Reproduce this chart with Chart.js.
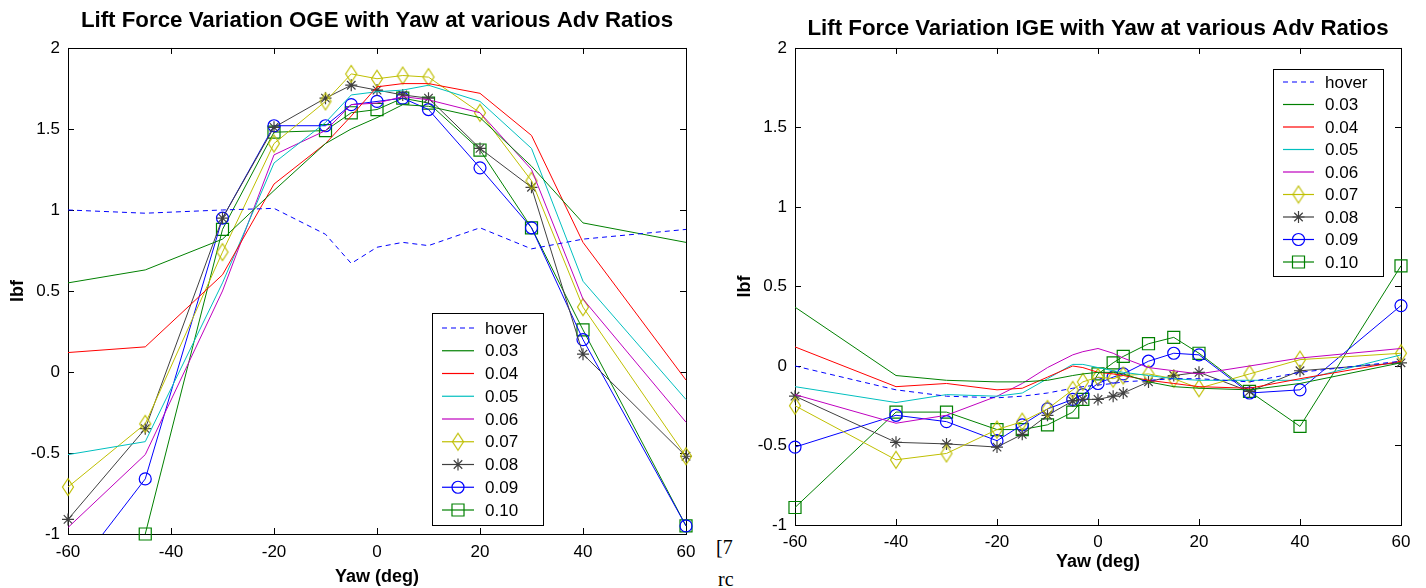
<!DOCTYPE html>
<html>
<head>
  <meta charset="utf-8" />
  <title>Lift Force Variation with Yaw</title>
  <script src="https://cdn.jsdelivr.net/npm/chart.js"></script>
  <style>
    body { margin: 0; background: #fff; width: 1426px; height: 588px; overflow: hidden; position: relative; }
    canvas { position: absolute; top: 0; }
    #oge { left: 0; }
    #ige { left: 720px; }
    .stray { position: absolute; font-family: "Liberation Serif", serif; font-size: 20px; color: #000; }
  </style>
</head>
<body>
  <div class="stray" style="left:716px; top:536px;">[7</div>
  <div class="stray" style="left:718px; top:568px;">rc</div>
  <canvas id="oge" width="720" height="588"></canvas>
  <canvas id="ige" width="706" height="588"></canvas>

  <script>
    // Yaw angles (deg) measured in each test
    const yawOGE = [-60, -45, -30, -20, -10, -5, 0, 5, 10, 20, 30, 40, 60];
    const yawIGE = [-60, -40, -30, -20, -15, -10, -5, -3, 0, 3, 5, 10, 15, 20, 30, 40, 60];

    // Out of ground effect, lift (lbf)
    const ogeHover = [1.00, 0.98, 1.00, 1.01, 0.85, 0.67, 0.77, 0.80, 0.78, 0.89, 0.76, 0.82, 0.88];
    const oge003 = [0.55, 0.63, 0.82, 1.12, 1.41, 1.50, 1.57, 1.65, 1.64, 1.57, 1.27, 0.92, 0.80];
    const oge004 = [0.12, 0.155, 0.60, 1.16, 1.41, 1.58, 1.76, 1.78, 1.78, 1.72, 1.46, 0.80, -0.05];
    const oge005 = [-0.51, -0.43, 0.55, 1.29, 1.54, 1.71, 1.73, 1.74, 1.77, 1.67, 1.38, 0.56, -0.17];
    const oge006 = [-0.96, -0.51, 0.50, 1.34, 1.49, 1.65, 1.66, 1.70, 1.68, 1.60, 1.25, 0.45, -0.31];
    const oge007 = [-0.71, -0.32, 0.74, 1.41, 1.67, 1.84, 1.81, 1.83, 1.82, 1.60, 1.18, 0.40, -0.52];
    const oge008 = [-0.91, -0.35, 0.95, 1.51, 1.69, 1.77, 1.74, 1.71, 1.69, 1.38, 1.14, 0.11, -0.52];
    const oge009 = [-1.28, -0.66, 0.95, 1.52, 1.52, 1.65, 1.67, 1.69, 1.62, 1.26, 0.89, 0.20, -0.95];
    const oge010 = [null, -1.00, 0.88, 1.48, 1.49, 1.60, 1.62, 1.69, 1.66, 1.37, 0.89, 0.26, -0.95];

    // In ground effect, lift (lbf)
    const igeHover = [0.00, -0.15, -0.19, -0.20, -0.19, -0.17, -0.14, -0.13, -0.12, -0.11, -0.10, -0.09, -0.08, -0.08, -0.10, -0.04, 0.03];
    const ige003 = [0.37, -0.06, -0.09, -0.10, -0.10, -0.09, -0.06, -0.05, -0.04, -0.04, -0.05, -0.10, -0.13, -0.14, -0.15, -0.11, 0.02];
    const ige004 = [0.12, -0.13, -0.11, -0.15, -0.14, -0.07, 0.00, -0.01, -0.04, -0.05, -0.06, -0.09, -0.11, -0.13, -0.14, -0.08, 0.03];
    const ige005 = [-0.13, -0.23, -0.18, -0.19, -0.17, -0.08, 0.01, 0.01, -0.01, -0.03, -0.04, -0.06, -0.08, -0.09, -0.09, -0.09, 0.07];
    const ige006 = [-0.18, -0.36, -0.31, -0.19, -0.11, -0.01, 0.07, 0.09, 0.11, 0.08, 0.05, -0.01, -0.03, -0.05, 0.00, 0.05, 0.11];
    const ige007 = [-0.25, -0.59, -0.55, -0.40, -0.35, -0.27, -0.15, -0.10, -0.07, -0.08, -0.06, -0.05, -0.08, -0.14, -0.05, 0.04, 0.08];
    const ige008 = [-0.19, -0.48, -0.49, -0.51, -0.43, -0.31, -0.22, -0.21, -0.21, -0.19, -0.17, -0.10, -0.06, -0.04, -0.16, -0.03, 0.02];
    const ige009 = [-0.51, -0.31, -0.35, -0.47, -0.37, -0.27, -0.21, -0.18, -0.11, -0.07, -0.05, 0.03, 0.08, 0.07, -0.17, -0.15, 0.38];
    const ige010 = [-0.89, -0.29, -0.29, -0.40, -0.40, -0.37, -0.29, -0.21, -0.05, 0.02, 0.06, 0.14, 0.18, 0.08, -0.16, -0.38, 0.63];

    const seriesLabels = ['hover', '0.03', '0.04', '0.05', '0.06', '0.07', '0.08', '0.09', '0.10'];
    const xTicks = [-60, -40, -20, 0, 20, 40, 60];
    const yTicks = [-1, -0.5, 0, 0.5, 1, 1.5, 2];

    const FONT = '"Liberation Sans", Arial, sans-serif';

    // tall matlab-like diamond marker
    function diamond(color) {
      const c = document.createElement('canvas');
      c.width = 14; c.height = 20;
      const g = c.getContext('2d');
      g.strokeStyle = color;
      g.lineWidth = 1.2;
      g.beginPath();
      g.moveTo(7, 1.5); g.lineTo(12.5, 10); g.lineTo(7, 18.5); g.lineTo(1.5, 10); g.closePath();
      g.stroke();
      return c;
    }

    // line styles, one per series label
    const styles = [
      { color: '#0000ff', dash: [5, 4], marker: null },
      { color: '#008000', dash: [], marker: null },
      { color: '#ff0000', dash: [], marker: null },
      { color: '#00bfbf', dash: [], marker: null },
      { color: '#bf00bf', dash: [], marker: null },
      { color: '#bfbf00', dash: [], marker: diamond('#bfbf00'), radius: 7 },
      { color: '#404040', dash: [], marker: 'star', radius: 6 },
      { color: '#0000ff', dash: [], marker: 'circle', radius: 6 },
      { color: '#008000', dash: [], marker: 'rect', radius: 8.5 }
    ];

    function makeDatasets(xs, ysList, clipBottom) {
      return ysList.map((ys, i) => {
        const st = styles[i];
        return {
          label: seriesLabels[i],
          data: xs.map((x, k) => ({ x: x, y: ys[k] })),
          borderColor: st.color,
          borderWidth: 1,
          borderDash: st.dash,
          backgroundColor: 'rgba(0,0,0,0)',
          pointStyle: st.marker || 'circle',
          pointRadius: st.marker ? st.radius : 0,
          pointBorderColor: st.color,
          pointBackgroundColor: 'rgba(0,0,0,0)',
          pointBorderWidth: 1.2,
          tension: 0,
          spanGaps: false,
          clip: { left: 10, top: 10, right: 10, bottom: clipBottom[i] }
        };
      });
    }

    // box + inward ticks on all four sides, like matlab axes
    const axesBox = {
      id: 'axesBox',
      beforeDatasetsDraw(chart) {
        const { ctx, chartArea: a, scales } = chart;
        ctx.save();
        ctx.strokeStyle = '#000';
        ctx.lineWidth = 1;
        ctx.strokeRect(Math.round(a.left) + 0.5, Math.round(a.top) + 0.5, Math.round(a.right - a.left), Math.round(a.bottom - a.top));
        const len = 6;
        ctx.beginPath();
        xTicks.forEach(v => {
          const px = Math.round(scales.x.getPixelForValue(v)) + 0.5;
          ctx.moveTo(px, a.bottom); ctx.lineTo(px, a.bottom - len);
          ctx.moveTo(px, a.top); ctx.lineTo(px, a.top + len);
        });
        yTicks.forEach(v => {
          const py = Math.round(scales.y.getPixelForValue(v)) + 0.5;
          ctx.moveTo(a.left, py); ctx.lineTo(a.left + len, py);
          ctx.moveTo(a.right, py); ctx.lineTo(a.right - len, py);
        });
        ctx.stroke();
        ctx.restore();
      }
    };

    // boxed legend inside the axes
    const boxLegend = {
      id: 'boxLegend',
      afterDraw(chart, args, opts) {
        const { ctx } = chart;
        ctx.save();
        ctx.fillStyle = '#fff';
        ctx.fillRect(opts.x, opts.y, opts.w, opts.h);
        ctx.strokeStyle = '#000';
        ctx.lineWidth = 1;
        ctx.strokeRect(opts.x + 0.5, opts.y + 0.5, opts.w, opts.h);
        ctx.font = '17px ' + FONT;
        ctx.textBaseline = 'middle';
        chart.data.datasets.forEach((ds, i) => {
          const st = styles[i];
          const cy = opts.y + opts.first + i * opts.rowH;
          const x0 = opts.x + opts.lineStart, x1 = x0 + opts.lineLen;
          ctx.strokeStyle = st.color;
          ctx.lineWidth = 1.2;
          ctx.setLineDash(st.dash);
          ctx.beginPath(); ctx.moveTo(x0, cy); ctx.lineTo(x1, cy); ctx.stroke();
          ctx.setLineDash([]);
          const cx = (x0 + x1) / 2;
          if (st.marker instanceof HTMLCanvasElement) {
            ctx.drawImage(st.marker, cx - st.marker.width / 2, cy - st.marker.height / 2);
          } else if (st.marker) {
            ctx.fillStyle = 'rgba(0,0,0,0)';
            Chart.helpers.drawPoint(ctx, { pointStyle: st.marker, radius: st.radius, borderWidth: 1.2, rotation: 0 }, cx, cy);
          }
          ctx.fillStyle = '#000';
          ctx.fillText(ds.label, opts.x + opts.textX, cy + 1);
        });
        ctx.restore();
      }
    };

    function makeChart(id, xs, ysList, clipBottom, cfg) {
      return new Chart(document.getElementById(id), {
        type: 'line',
        data: { datasets: makeDatasets(xs, ysList, clipBottom) },
        plugins: [axesBox, boxLegend],
        options: {
          responsive: false,
          animation: false,
          devicePixelRatio: 1,
          events: [],
          layout: { padding: { left: 0, right: cfg.padRight, top: 0, bottom: 0 } },
          plugins: {
            legend: { display: false },
            tooltip: { enabled: false },
            title: {
              display: true,
              text: cfg.title,
              fullSize: false,
              color: '#000',
              font: { family: FONT, size: 22.3, weight: 'bold' },
              padding: cfg.titlePad
            },
            boxLegend: cfg.legend
          },
          scales: {
            x: {
              type: 'linear',
              min: -60, max: 60,
              grid: { display: false, drawTicks: false },
              border: { display: false },
              afterFit: s => { s.height = cfg.xHeight; },
              afterBuildTicks: s => { s.ticks = xTicks.map(v => ({ value: v })); },
              ticks: { autoSkip: false, maxRotation: 0, padding: cfg.xTickPad, color: '#000', font: { family: FONT, size: 17 }, callback: v => String(v) },
              title: { display: true, text: 'Yaw (deg)', color: '#000', font: { family: FONT, size: 18, weight: 'bold' }, padding: { top: 0, bottom: cfg.xTitlePad } }
            },
            y: {
              min: -1, max: 2,
              grid: { display: false, drawTicks: false },
              border: { display: false },
              afterFit: s => { s.width = cfg.yWidth; },
              afterBuildTicks: s => { s.ticks = yTicks.map(v => ({ value: v })); },
              ticks: { autoSkip: false, padding: 8, color: '#000', font: { family: FONT, size: 17 }, callback: v => String(v) },
              title: { display: true, text: 'lbf', color: '#000', font: { family: FONT, size: 18, weight: 'bold' }, padding: { top: cfg.yTitlePad, bottom: 0 } }
            }
          }
        }
      });
    }

    makeChart('oge', yawOGE,
      [ogeHover, oge003, oge004, oge005, oge006, oge007, oge008, oge009, oge010],
      [10, 10, 10, 10, 10, 10, 10, 0, 10],
      {
        title: 'Lift Force Variation OGE with Yaw at various Adv Ratios',
        padRight: 34, titlePad: { top: 7, bottom: 14.2 },
        xHeight: 54, xTickPad: 8, xTitlePad: 0,
        yWidth: 68, yTitlePad: 7,
        legend: { x: 432, y: 313, w: 111, h: 212, first: 15, rowH: 22.75, lineStart: 10, lineLen: 32, textX: 53 }
      });

    makeChart('ige', yawIGE,
      [igeHover, ige003, ige004, ige005, ige006, ige007, ige008, ige009, ige010],
      [10, 10, 10, 10, 10, 10, 10, 10, 10],
      {
        title: 'Lift Force Variation IGE with Yaw at various Adv Ratios',
        padRight: 25, titlePad: { top: 15, bottom: 6.2 },
        xHeight: 63, xTickPad: 7, xTitlePad: 15,
        yWidth: 75, yTitlePad: 14,
        legend: { x: 553, y: 69, w: 110, h: 207, first: 13, rowH: 22.5, lineStart: 10, lineLen: 31, textX: 52 }
      });
  </script>
</body>
</html>
